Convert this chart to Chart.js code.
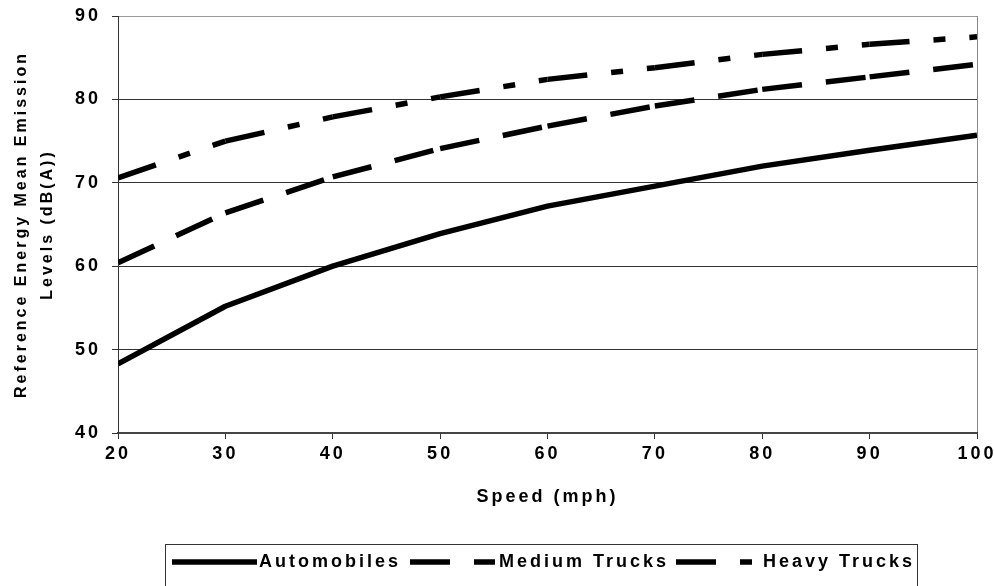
<!DOCTYPE html>
<html><head><meta charset="utf-8">
<script src="https://cdn.jsdelivr.net/npm/chart.js@4/dist/chart.umd.min.js"></script>
<style>html,body{margin:0;padding:0;background:#fff}#wrap{width:994px;height:586px}</style>
</head><body><div id="wrap"><canvas id="c" width="994" height="586"></canvas></div>
<script>
// ---- data ----
const speeds = [20, 30, 40, 50, 60, 70, 80, 90, 100];
const automobiles = [48.3, 55.2, 60.0, 63.9, 67.2, 69.6, 72.0, 73.9, 75.7];
const mediumTrucks = [60.4, 66.4, 70.7, 74.1, 76.8, 79.2, 81.2, 82.7, 84.2];
const heavyTrucks = [70.6, 75.0, 77.9, 80.3, 82.4, 83.8, 85.4, 86.6, 87.5];
const seriesNames = ['Automobiles', 'Medium Trucks', 'Heavy Trucks'];
const xTicks = [20, 30, 40, 50, 60, 70, 80, 90, 100];
const yTicks = [40, 50, 60, 70, 80, 90];
const xTitle = 'Speed (mph)';
const yTitle = ['Reference Energy Mean Emission', 'Levels (dB(A))'];

// ---- styles ----
const FONT = 'Liberation Sans, Arial, Helvetica, sans-serif';
const SPACING = '3px';
const dashes = [[], [40, 24], [40, 24, 12, 24]];
const seriesValues = [automobiles, mediumTrucks, heavyTrucks];

const datasets = seriesValues.map((vals, i) => ({
  label: seriesNames[i],
  data: speeds.map((s, j) => ({x: s, y: vals[j]})),
  borderColor: '#000',
  backgroundColor: '#000',
  borderWidth: 5.5,
  borderDash: dashes[i],
  borderCapStyle: 'butt',
  borderJoinStyle: 'round',
  pointRadius: 0,
  tension: 0,
  fill: false,
  // restart the dash pattern on every segment (as the original does)
  segment: i === 0 ? undefined : {
    borderDashOffset: (c) => (c.p0DataIndex % 2) * 0.001
  }
}));

const spacingPlugin = {
  id: 'spacing',
  beforeUpdate(chart) { chart.ctx.letterSpacing = SPACING; },
  beforeLayout(chart) { chart.ctx.letterSpacing = SPACING; },
  beforeDraw(chart) { chart.ctx.letterSpacing = SPACING; }
};

const legendBox = {
  id: 'legendBox',
  afterDraw(chart) {
    const ctx = chart.ctx;
    ctx.save();
    ctx.letterSpacing = SPACING;
    ctx.strokeStyle = '#333';
    ctx.lineWidth = 1;
    ctx.strokeRect(165.5, 544.5, 752, 60);
    ctx.font = 'bold 18px ' + FONT;
    ctx.textBaseline = 'middle';
    ctx.textAlign = 'left';
    ctx.fillStyle = '#000';
    const y = 562;
    const sampleX = [172, 410, 676];
    const textX = [259, 499, 763];
    chart.data.datasets.forEach((ds, i) => {
      ctx.save();
      ctx.strokeStyle = ds.borderColor;
      ctx.lineWidth = ds.borderWidth;
      ctx.lineCap = 'butt';
      ctx.setLineDash(ds.borderDash);
      ctx.beginPath();
      ctx.moveTo(sampleX[i], y);
      ctx.lineTo(sampleX[i] + 85, y);
      ctx.stroke();
      ctx.restore();
      ctx.fillText(ds.label, textX[i], y);
    });
    ctx.restore();
  }
};

const tickFont = {family: FONT, size: 18, weight: 'bold'};

new Chart(document.getElementById('c'), {
  type: 'line',
  data: {datasets},
  plugins: [spacingPlugin, legendBox],
  options: {
    responsive: false,
    animation: false,
    devicePixelRatio: 1,
    layout: {padding: {left: 0, right: 17, top: 16, bottom: 70}},
    plugins: {legend: {display: false}, tooltip: {enabled: false}},
    scales: {
      x: {
        type: 'linear',
        min: 20, max: 100,
        afterBuildTicks(scale) { scale.ticks = xTicks.map(v => ({value: v})); },
        afterFit(scale) { scale.height = 83; scale.paddingLeft = 0; scale.paddingRight = 0; },
        ticks: {color: '#000', padding: 4, maxRotation: 0, font: tickFont},
        grid: {
          color: (c) => (c.tick && c.tick.value === 100) ? '#888' : 'rgba(0,0,0,0)',
          tickColor: '#333', tickLength: 6, lineWidth: 1, drawOnChartArea: true
        },
        border: {color: '#444', width: 2},
        title: {display: true, text: xTitle, color: '#000', padding: {top: 0, bottom: 8}, font: tickFont}
      },
      y: {
        type: 'linear',
        min: 40, max: 90,
        afterBuildTicks(scale) { scale.ticks = yTicks.map(v => ({value: v})); },
        afterFit(scale) { scale.width = 118; scale.paddingTop = 0; scale.paddingBottom = 0; },
        ticks: {color: '#000', padding: 11, font: tickFont},
        grid: {
          color: (c) => (c.tick && c.tick.value === 90) ? '#999' : '#333',
          tickColor: '#333', tickLength: 6, lineWidth: 1
        },
        border: {color: '#333', width: 1},
        title: {display: true, text: yTitle, color: '#000', padding: {top: 9, bottom: 0}, font: {family: FONT, size: 16, weight: 'bold', lineHeight: 1.6}}
      }
    }
  }
});
</script>
</body></html>
